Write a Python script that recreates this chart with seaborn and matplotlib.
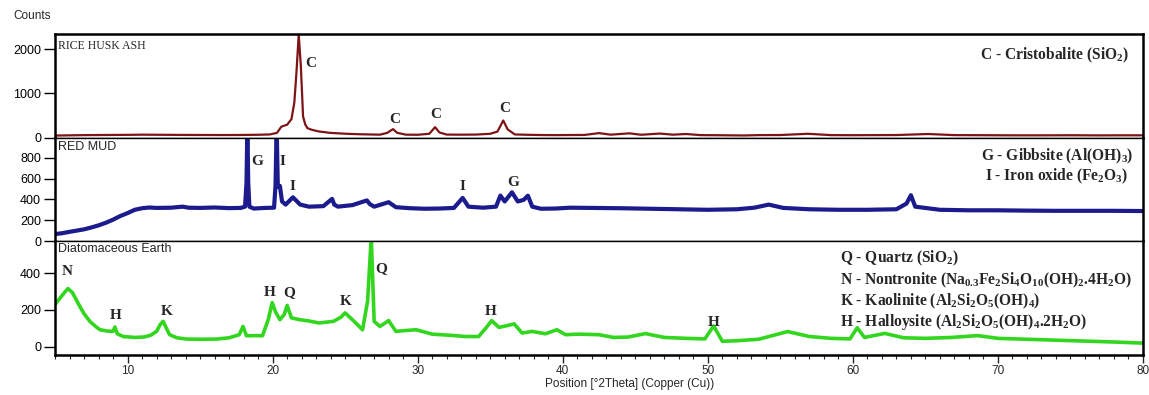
import numpy as np
import pandas as pd
import matplotlib

matplotlib.use("Agg")
import matplotlib.pyplot as plt
import seaborn as sns
from matplotlib.ticker import MultipleLocator

# -------------------- DATA --------------------
rha_x = [5, 6, 7, 8, 9, 10, 11, 12, 13, 14, 15, 16, 17, 18, 19, 19.8, 20.3, 20.6,
         21.0, 21.3, 21.5, 21.65, 21.8, 21.95, 22.1, 22.25, 22.4, 22.7, 23.2, 24.0,
         25.1, 26.0, 27.4, 27.9, 28.3, 28.6, 29.2, 30.0, 30.8, 31.2, 31.5, 32.0,
         33.0, 34.0, 35.0, 35.5, 35.9, 36.2, 36.7, 37.5, 38.5, 39.5, 40.5, 41.5,
         42.5, 43.3, 44.6, 45.4, 46.7, 47.6, 48.5, 49.5, 50.5, 51.5, 52.5, 53.5,
         55.0, 56.9, 58.5, 60.0, 61.5, 63.0, 65.2, 67.0, 69.0, 71.0, 73.0, 75.0,
         77.0, 79.0, 80.0]
rha_y = [50, 55, 60, 62, 64, 66, 70, 68, 66, 64, 63, 62, 62, 64, 68, 75, 110, 250,
         295, 420, 800, 1500, 2330, 1600, 480, 300, 217, 180, 142, 110,
         90, 80, 70, 110, 195, 110, 70, 68, 90, 240, 120, 72,
         70, 72, 90, 140, 390, 190, 75, 68, 62, 60, 62, 64,
         105, 70, 100, 68, 95, 70, 85, 60, 58, 55, 52, 60,
         62, 90, 60, 58, 60, 62, 85, 60, 58, 55, 55, 57,
         54, 56, 55]

rm_x = [5, 5.5, 6, 6.5, 7, 7.5, 8, 8.5, 9, 9.5, 10, 10.5, 11, 11.5, 12, 13, 13.8,
        14.2, 15, 16, 17, 17.8, 18.1, 18.2, 18.26, 18.32, 18.4, 18.7, 19.5, 20.1,
        20.2, 20.28, 20.36, 20.5, 20.65, 20.9, 21.4, 21.9, 22.5, 23.5, 24.1, 24.25,
        24.5, 25.5, 26.5, 26.7, 27.0, 28.0, 28.5, 29.5, 30.5, 31.5, 32.5, 33.1,
        33.5, 34.5, 35.4, 35.7, 36.0, 36.5, 36.9, 37.3, 37.6, 37.9, 38.5, 39.5,
        40.5, 42.0, 44.0, 46.0, 48.0, 50.0, 52.0, 53.2, 54.2, 55.2, 57.0, 59.0,
        61.0, 63.0, 63.7, 64.0, 64.3, 66.0, 68.0, 70.0, 72.0, 74.0, 76.0, 78.0, 80.0]
rm_y = [66, 75, 88, 100, 112, 130, 150, 175, 205, 240, 268, 300, 315, 322, 318, 320, 330,
        320, 318, 322, 316, 318, 330, 560, 1100, 560, 330, 312, 318, 320,
        530, 1100, 520, 530, 380, 350, 420, 350, 330, 335, 405, 350,
        330, 345, 390, 355, 330, 373, 325, 315, 310, 312, 318, 414,
        330, 320, 330, 436, 380, 468, 380, 395, 436, 330, 310, 312,
        320, 318, 315, 310, 305, 300, 305, 320, 350, 318, 305, 300,
        300, 305, 360, 440, 330, 300, 295, 295, 292, 290, 290, 290, 288]

de_x = [5, 5.4, 5.7, 5.9, 6.2, 6.7, 7.0, 7.4, 7.8, 8.1, 8.6, 9.0, 9.13, 9.3, 9.7,
        10.5, 11.1, 11.6, 12.0, 12.25, 12.45, 12.65, 12.9, 13.4, 14.1, 15.0, 16.1,
        17.0, 17.7, 17.96, 18.2, 18.8, 19.3, 19.7, 19.97, 20.2, 20.5, 20.8, 21.0,
        21.3, 21.86, 22.5, 23.2, 24.2, 24.7, 25.0, 25.5, 26.2, 26.55, 26.8, 27.0,
        27.4, 28.0, 28.5, 29.2, 29.9, 31.0, 32.2, 33.3, 34.2, 34.7, 35.1, 35.6,
        36.2, 36.65, 37.2, 37.9, 38.8, 39.6, 40.2, 41.1, 42.5, 43.5, 44.5, 45.7,
        47.0, 48.5, 49.8, 50.4, 51.0, 52.0, 53.5, 55.5, 57.0, 58.5, 59.8, 60.3,
        60.8, 62.2, 63.5, 65.0, 66.8, 68.6, 70.0, 72.0, 74.0, 76.0, 78.0, 80.0]
de_y = [230, 270, 300, 317, 295, 221, 180, 138, 110, 92, 85, 83, 107, 70, 55,
        50, 52, 62, 83, 120, 138, 105, 65, 48, 41, 40, 41,
        48, 65, 110, 59, 60, 59, 147, 240, 190, 147, 175, 225,
        157, 147, 140, 129, 138, 160, 184, 147, 92, 249, 600, 138,
        110, 142, 83, 88, 92, 68, 62, 55, 55, 101, 142, 105,
        115, 124, 74, 83, 70, 92, 65, 68, 65, 50, 52, 71,
        50, 45, 42, 113, 29, 32, 40, 82, 55, 45, 42, 103,
        50, 72, 48, 45, 50, 60, 45, 40, 35, 30, 25, 19]

# peak letters: (letter, x, y)
rha_marks = ["C", "C", "C", "C"]
rha_mx = [22.66, 28.4, 31.27, 35.97]
rha_my = [1679, 405, 517, 667]

rm_marks = ["G", "I", "I", "I", "G"]
rm_mx = [18.92, 20.71, 21.4, 33.1, 36.59]
rm_my = [762, 768, 521, 521, 563]

de_marks = ["N", "H", "K", "H", "Q", "K", "Q", "H", "H"]
de_mx = [5.87, 9.17, 12.68, 19.8, 21.12, 25.03, 27.48, 35.06, 50.37]
de_my = [409, 170, 193, 295, 295, 249, 427, 190, 134]

rha_legend = ["C - Cristobalite (SiO$_2$)"]
rm_legend = ["G - Gibbsite (Al(OH)$_3$)", "I - Iron oxide (Fe$_2$O$_3$)"]
de_legend = [
    "Q - Quartz (SiO$_2$)",
    "N - Nontronite (Na$_{0.3}$Fe$_2$Si$_4$O$_{10}$(OH)$_2$.4H$_2$O)",
    "K - Kaolinite (Al$_2$Si$_2$O$_5$(OH)$_4$)",
    "H - Halloysite (Al$_2$Si$_2$O$_5$(OH)$_4$.2H$_2$O)",
]

# -------------------- STYLE --------------------
sns.set_theme(style="ticks")
plt.rcParams["font.family"] = ["Liberation Sans", "DejaVu Sans"]
plt.rcParams["mathtext.fontset"] = "custom"
plt.rcParams["mathtext.rm"] = "Liberation Serif:bold"
plt.rcParams["mathtext.it"] = "Liberation Serif:bold"
plt.rcParams["mathtext.bf"] = "Liberation Serif:bold"
plt.rcParams["mathtext.default"] = "rm"

SERIF = ["Liberation Serif", "DejaVu Serif"]

fig = plt.figure(figsize=(11.49, 3.95), dpi=100)
L, W = 55 / 1149, 1088 / 1149
ax_top = fig.add_axes([L, 257 / 395, W, 104 / 395])
ax_mid = fig.add_axes([L, 154 / 395, W, 103 / 395])
ax_bot = fig.add_axes([L, 40 / 395, W, 114 / 395])

panels = [
    (ax_top, rha_x, rha_y, "#7d1416", 1.6, (-5, 2340), [0, 1000, 2000]),
    (ax_mid, rm_x, rm_y, "#1b1b8e", 3.0, (0, 990), [0, 200, 400, 600, 800]),
    (ax_bot, de_x, de_y, "#33d61f", 2.6, (-46, 577), [0, 200, 400]),
]

for ax, xs, ys, col, lw, ylim, yt in panels:
    df = pd.DataFrame({"x": xs, "y": ys})
    sns.lineplot(data=df, x="x", y="y", ax=ax, color=col, lw=lw, estimator=None)
    ax.set_xlim(5, 80)
    ax.set_ylim(*ylim)
    ax.set_yticks(yt)
    ax.set_xlabel("")
    ax.set_ylabel("")
    for s in ax.spines.values():
        s.set_visible(True)
        s.set_color("black")
        s.set_linewidth(1.0)
    ax.spines["left"].set_linewidth(1.8)
    ax.spines["right"].set_linewidth(1.8)
    ax.tick_params(axis="y", length=8, width=1, labelsize=9, colors="black", pad=2)
    ax.set_facecolor("white")

ax_top.spines["top"].set_linewidth(1.8)
ax_bot.spines["bottom"].set_linewidth(1.8)
for ax in (ax_top, ax_mid):
    ax.tick_params(axis="x", bottom=False, labelbottom=False)

ax_bot.xaxis.set_major_locator(MultipleLocator(10))
ax_bot.xaxis.set_minor_locator(MultipleLocator(1))
ax_bot.set_xticks([10, 20, 30, 40, 50, 60, 70, 80])
ax_bot.tick_params(axis="x", which="major", length=6, width=1, labelsize=8.5, pad=1)
ax_bot.tick_params(axis="x", which="minor", length=3, width=0.8)

# panel names
ax_top.text(0.003, 0.885, "RICE HUSK ASH", transform=ax_top.transAxes,
            va="center", ha="left", fontsize=8.5, family=SERIF)
ax_mid.text(0.003, 0.915, "RED MUD", transform=ax_mid.transAxes,
            va="center", ha="left", fontsize=9)
ax_bot.text(0.003, 0.93, "Diatomaceous Earth", transform=ax_bot.transAxes,
            va="center", ha="left", fontsize=9)

# peak letters
for ax, ms, mx, my in [(ax_top, rha_marks, rha_mx, rha_my),
                       (ax_mid, rm_marks, rm_mx, rm_my),
                       (ax_bot, de_marks, de_mx, de_my)]:
    for m, x, y in zip(ms, mx, my):
        ax.text(x, y, m, ha="center", va="center", fontsize=11,
                fontweight="bold", family=SERIF)

# phase keys
ax_top.text(0.919, 0.798, rha_legend[0], transform=ax_top.transAxes,
            ha="center", va="center", fontsize=11.2, fontweight="bold", family=SERIF)
for txt, yy in zip(rm_legend, [0.818, 0.624]):
    ax_mid.text(0.921, yy, txt, transform=ax_mid.transAxes,
                ha="center", va="center", fontsize=11.2, fontweight="bold", family=SERIF)
for txt, yy in zip(de_legend, [0.848, 0.658, 0.468, 0.292]):
    ax_bot.text(0.7215, yy, txt, transform=ax_bot.transAxes,
                ha="left", va="center", fontsize=11.2, fontweight="bold", family=SERIF)

fig.text(32 / 1149, 1 - 15.7 / 395, "Counts", ha="center", va="center", fontsize=8.5)
fig.text(630 / 1149, 1 - 383.5 / 395, "Position [°2Theta] (Copper (Cu))",
         ha="center", va="center", fontsize=8.5)

fig.savefig("out.png", dpi=100, facecolor="white")
